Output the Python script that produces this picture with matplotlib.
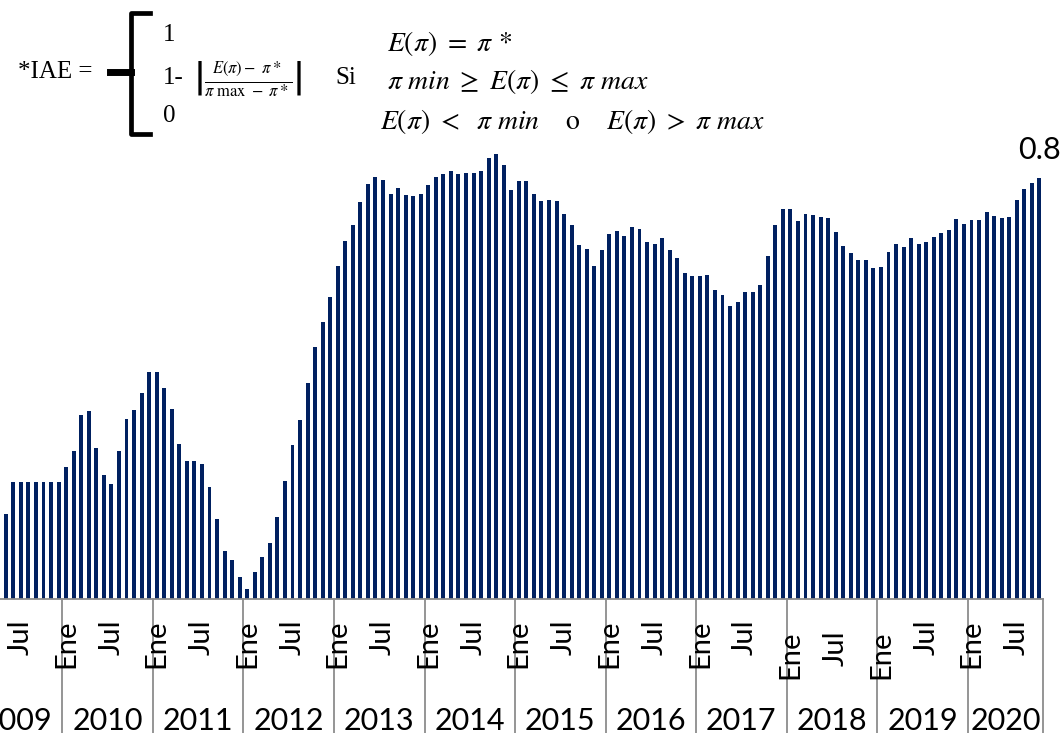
import matplotlib
matplotlib.use("Agg")
import matplotlib.pyplot as plt
from matplotlib.lines import Line2D

# IAE monthly values, first visible month is Apr 2009 (Jan-Mar 2009 fall outside the picture)
iae_2009 = [0.103, 0.161, 0.222, 0.222, 0.222, 0.222, 0.222, 0.222, 0.222]
iae_2010 = [0.251, 0.281, 0.349, 0.358, 0.287, 0.235, 0.219, 0.281, 0.342, 0.359, 0.392, 0.431]
iae_2011 = [0.431, 0.401, 0.362, 0.295, 0.262, 0.262, 0.257, 0.213, 0.152, 0.092, 0.074, 0.041]
iae_2012 = [0.019, 0.051, 0.080, 0.106, 0.155, 0.224, 0.292, 0.340, 0.410, 0.479, 0.527, 0.575]
iae_2013 = [0.633, 0.681, 0.711, 0.754, 0.789, 0.802, 0.797, 0.770, 0.781, 0.768, 0.766, 0.770]
iae_2014 = [0.787, 0.802, 0.808, 0.814, 0.809, 0.811, 0.811, 0.813, 0.838, 0.846, 0.825, 0.777]
iae_2015 = [0.794, 0.794, 0.770, 0.756, 0.758, 0.757, 0.733, 0.711, 0.674, 0.666, 0.633, 0.664]
iae_2016 = [0.695, 0.700, 0.691, 0.708, 0.703, 0.678, 0.675, 0.687, 0.663, 0.648, 0.620, 0.615]
iae_2017 = [0.615, 0.617, 0.588, 0.578, 0.557, 0.564, 0.584, 0.584, 0.597, 0.653, 0.711, 0.741]
iae_2018 = [0.742, 0.718, 0.733, 0.730, 0.726, 0.724, 0.697, 0.672, 0.657, 0.644, 0.644, 0.630]
iae_2019 = [0.632, 0.659, 0.676, 0.670, 0.686, 0.676, 0.678, 0.688, 0.696, 0.702, 0.722, 0.713]
iae_2020 = [0.720, 0.720, 0.736, 0.728, 0.724, 0.727, 0.758, 0.780, 0.791, 0.800]

iae = (iae_2009 + iae_2010 + iae_2011 + iae_2012 + iae_2013 + iae_2014 + iae_2015
       + iae_2016 + iae_2017 + iae_2018 + iae_2019 + iae_2020)
start_year, start_month = 2009, 4
years = list(range(2009, 2021))
month_labels = {1: "Ene", 7: "Jul"}
low_labels = [(2018, 1), (2018, 7), (2019, 1)]   # Excel drew these a bit lower

sans = ["Liberation Sans Narrow", "Lato", "DejaVu Sans"]
plt.rcParams["mathtext.fontset"] = "stix"

n = len(iae)
xs = list(range(n))
ym = [(start_year + (start_month - 1 + i) // 12, (start_month - 1 + i) % 12 + 1) for i in xs]
first_jan = -(start_month - 1)   # index of Jan of the first year (off screen)

fig = plt.figure(figsize=(10.61, 7.33), dpi=100)
ax = fig.add_axes([-0.02658, 0.18281, 1.0098, 0.71743])

ax.bar(xs, iae, width=0.52, color="#002060", edgecolor="none")
ax.set_xlim(first_jan - 0.5, n - 0.5)
ax.set_ylim(0, 1)
ax.set_yticks([])
ax.set_xticks([])
for s in ["left", "right", "top"]:
    ax.spines[s].set_visible(False)
ax.spines["bottom"].set_color("#8c8c8c")
ax.spines["bottom"].set_linewidth(1.3)

# year separators
tr = ax.get_xaxis_transform()
for k, yr in enumerate(years):
    xj = first_jan + 12 * k - 0.5
    ax.plot([xj, xj], [0, -0.27], color="#8c8c8c", lw=1.3, transform=tr, clip_on=False)
ax.plot([n - 0.5, n - 0.5], [0, -0.27], color="#8c8c8c", lw=1.3, transform=tr, clip_on=False)

# month labels
for i, (yr, mo) in zip(xs, ym):
    if mo in month_labels:
        dy = -23 if (yr, mo) in low_labels else -15
        ax.annotate(month_labels[mo], xy=(i, 0), xycoords=tr, xytext=(0, dy),
                    textcoords="offset points", rotation=90, ha="center", va="top",
                    fontsize=21, family=sans)

# year labels
for k, yr in enumerate(years):
    j0 = first_jan + 12 * k
    j1 = min(j0 + 11, n - 1)
    ax.annotate(str(yr), xy=((j0 + j1) / 2, 0), xycoords=tr, xytext=(0, -94),
                textcoords="offset points", ha="center", va="baseline",
                fontsize=22, family=sans)

# value label on last bar
ax.annotate(f"{iae[-1]:.1f}", xy=(xs[-1], iae[-1]), xytext=(0, 14),
            textcoords="offset points", ha="center", va="baseline",
            fontsize=22, family=sans)

# formula block at the top
W, H = 1061, 733
def fx(x):
    return x / W
def fy(y):
    return 1 - y / H

serif = ["Liberation Serif", "DejaVu Serif"]
fig.text(fx(18), fy(72), "*IAE =", fontsize=18, family=serif, va="center")
brace = [(150, 13), (131, 13), (131, 134), (150, 134)]
fig.add_artist(Line2D([fx(p[0]) for p in brace], [fy(p[1]) for p in brace],
                      color="black", lw=3.4, solid_joinstyle="round"))
fig.add_artist(Line2D([fx(110), fx(131)], [fy(72), fy(72)], color="black", lw=5))
fig.text(fx(163), fy(35), "1", fontsize=18, family=serif, va="center")
fig.text(fx(163), fy(78), "1-", fontsize=18, family=serif, va="center")
fig.text(fx(163), fy(116), "0", fontsize=18, family=serif, va="center")
fig.text(fx(194), fy(78), r"$\left|\frac{E(\pi)-\ \pi*}{\pi\ \mathrm{max}\ -\ \pi*}\right|$",
         fontsize=17, va="center")
fig.text(fx(335), fy(78), "Si", fontsize=18, family=serif, va="center")
fig.text(fx(387), fy(43), r"$E(\pi)\ =\ \pi\,*$", fontsize=20, va="center")
fig.text(fx(387), fy(81), r"$\pi\ min\ \geq\ E(\pi)\ \leq\ \pi\ max$", fontsize=20, va="center")
fig.text(fx(380), fy(121), r"$E(\pi)\ <\ \ \pi\ min\quad\ \mathrm{o}\quad\ E(\pi)\ >\ \pi\ max$",
         fontsize=20, va="center")

fig.savefig("out.png", dpi=100)
